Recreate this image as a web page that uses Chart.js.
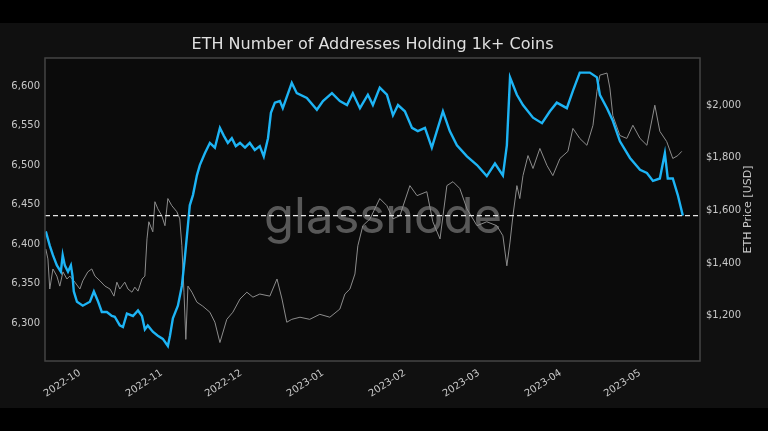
<!DOCTYPE html>
<html>
<head>
<meta charset="utf-8">
<script src="https://cdn.jsdelivr.net/npm/chart.js@4.4.0/dist/chart.umd.min.js"></script>
<style>
html, body { margin: 0; padding: 0; background: #000; }
#wrap { position: absolute; left: 0; top: 23px; width: 768px; height: 385px; background: #101010; }
</style>
</head>
<body>
<div id="wrap"><canvas id="chart"></canvas></div>
<script>
// x values are days counted from 2022-10-01
var monthLabels = ['2022-10', '2022-11', '2022-12', '2023-01', '2023-02', '2023-03', '2023-04', '2023-05'];
var monthDays = [0, 31, 61, 92, 123, 151, 182, 212];

var addrDays = [-12.9, -11.4, -10.2, -8.7, -7.2, -6.5, -5.7, -4.5, -3.4, -2.8, -2.3, -1.1, 1.1, 3.8, 5.3, 6.8, 8.3, 10.2, 12.1, 13.2,
    15.1, 16.3, 17.8, 20.1, 22.0, 23.5, 24.6, 25.7, 27.6, 29.5, 31.4, 33.3, 34.1, 35.2, 37.1, 38.6, 39.7, 40.9, 41.6, 42.8,
    44.3, 45.4, 47.3, 49.2, 51.1, 53.0, 54.5, 56.0, 57.5, 59.0, 60.6, 62.5, 64.3, 66.2, 68.1, 69.6, 71.2, 72.3, 73.8, 75.7,
    76.8, 80.2, 82.1, 85.9, 89.7, 92.0, 95.4, 98.4, 101.1, 103.3, 106.0, 109.0, 110.9, 113.5, 116.2, 118.5, 120.4, 123.0, 125.7, 127.9,
    130.6, 133.2, 135.1, 137.4, 140.0, 142.7, 146.5, 150.3, 154.0, 157.1, 160.1, 161.6, 162.8, 165.4, 167.7, 171.5, 174.9, 177.9, 180.5, 184.3,
    186.6, 189.2, 193.0, 195.7, 196.8, 199.5, 201.7, 204.4, 208.2, 212.0, 214.6, 216.9, 219.5, 221.4, 222.5, 224.4, 226.3, 228.2];
var addrValues = [6416, 6398, 6386, 6373, 6365, 6386, 6373, 6365, 6373, 6360, 6340, 6327, 6322, 6327, 6340, 6328, 6314, 6314, 6309, 6308,
    6297, 6295, 6312, 6309, 6316, 6309, 6292, 6297, 6289, 6284, 6280, 6271, 6284, 6306, 6322, 6347, 6382, 6424, 6449, 6462,
    6487, 6500, 6515, 6528, 6522, 6547, 6537, 6528, 6534, 6524, 6528, 6522, 6528, 6519, 6524, 6511, 6534, 6566, 6579, 6581,
    6572, 6604, 6591, 6585, 6570, 6581, 6591, 6581, 6576, 6591, 6572, 6589, 6576, 6598, 6589, 6563, 6576, 6568, 6547, 6543,
    6547, 6522, 6543, 6568, 6543, 6525, 6511, 6500, 6486, 6502, 6487, 6525, 6611, 6589, 6576, 6560, 6553, 6568, 6579, 6572,
    6594, 6617, 6617, 6611, 6589, 6572, 6556, 6530, 6509, 6494, 6490, 6480, 6483, 6515, 6483, 6483, 6462, 6436];

var priceDays = [-12.9, -12.1, -11.4, -10.2, -8.7, -7.6, -6.4, -4.9, -3.8, -1.9, 0, 1.1, 3.0, 4.5, 5.7, 7.6, 9.5, 11.4, 12.9, 14.0,
    15.1, 17.0, 18.2, 19.7, 20.8, 22.0, 23.5, 24.6, 25.4, 26.1, 27.6, 28.4, 29.5, 31.0, 32.2, 33.3, 34.8, 36.7, 37.8, 38.6,
    39.4, 40.1, 40.9, 42.4, 44.3, 46.5, 49.2, 51.1, 53.0, 55.6, 57.9, 60.6, 63.2, 65.5, 68.1, 71.9, 74.6, 76.5, 78.3, 80.2,
    83.3, 87.0, 90.8, 94.6, 98.4, 100.3, 102.2, 104.1, 105.2, 107.1, 109.8, 113.5, 116.2, 118.5, 121.1, 124.9, 127.6, 131.3, 133.6, 136.3,
    138.9, 141.2, 143.8, 146.5, 150.3, 154.0, 157.8, 160.1, 161.6, 162.8, 163.9, 165.4, 166.5, 167.7, 169.6, 171.5, 174.1, 176.8, 179.0, 181.7,
    184.7, 186.6, 189.2, 191.9, 194.2, 195.7, 196.8, 199.5, 200.6, 201.7, 204.4, 207.0, 209.3, 212.0, 214.6, 217.6, 219.5, 222.1, 224.4, 226.3, 227.8];
var priceValues = [1454, 1416, 1302, 1378, 1351, 1313, 1367, 1340, 1351, 1328, 1302, 1333, 1367, 1378, 1351, 1333, 1313, 1302, 1275, 1328,
    1302, 1328, 1302, 1290, 1309, 1294, 1340, 1351, 1492, 1557, 1519, 1633, 1606, 1580, 1542, 1645, 1618, 1595, 1568, 1466,
    1290, 1111, 1313, 1290, 1252, 1237, 1214, 1176, 1099, 1187, 1214, 1264, 1290, 1271, 1283, 1275, 1340, 1264, 1176, 1187,
    1195, 1187, 1206, 1195, 1226, 1283, 1302, 1359, 1466, 1542, 1568, 1645, 1618, 1568, 1580, 1694, 1656, 1671, 1557, 1492,
    1694, 1709, 1683, 1606, 1542, 1557, 1542, 1504, 1390, 1480, 1580, 1694, 1645, 1732, 1808, 1759, 1835, 1770, 1732, 1797,
    1824, 1911, 1873, 1847, 1923, 2052, 2113, 2121, 2064, 1960, 1884, 1873, 1923, 1873, 1847, 1999, 1900, 1861, 1797, 1808, 1824];

var addrTicks = [6300, 6350, 6400, 6450, 6500, 6550, 6600];
var priceTicks = [1200, 1400, 1600, 1800, 2000];
var currentLevel = 6436;
var titleText = 'ETH Number of Addresses Holding 1k+ Coins';

var toPoints = function (xs, ys) {
    return xs.map(function (x, i) { return { x: x, y: ys[i] }; });
};

var decorPlugin = {
    id: 'decor',
    beforeDraw: function (chart) {
        var a = chart.chartArea, ctx = chart.ctx;
        ctx.save();
        ctx.fillStyle = '#0b0b0b';
        ctx.fillRect(a.left, a.top, a.right - a.left, a.bottom - a.top);
        // title, centred over the plot area
        ctx.fillStyle = '#e0e0e0';
        ctx.font = '16px "DejaVu Sans"';
        ctx.textAlign = 'center';
        ctx.textBaseline = 'middle';
        ctx.fillText(titleText, (a.left + a.right) / 2, 22);
        ctx.restore();
    },
    beforeDatasetsDraw: function (chart) {
        var a = chart.chartArea, ctx = chart.ctx;
        ctx.save();
        ctx.font = '49px Inter';
        ctx.fillStyle = 'rgba(140,140,140,0.6)';
        ctx.textAlign = 'center';
        ctx.textBaseline = 'alphabetic';
        ctx.fillText('glassnode', 383, 210);
        ctx.restore();
    },
    afterDatasetsDraw: function (chart) {
        var a = chart.chartArea, ctx = chart.ctx;
        var y = chart.scales.y.getPixelForValue(currentLevel);
        ctx.save();
        ctx.strokeStyle = '#e6e6e6';
        ctx.lineWidth = 1.3;
        ctx.setLineDash([5, 3]);
        ctx.beginPath();
        ctx.moveTo(a.left, y);
        ctx.lineTo(a.right, y);
        ctx.stroke();
        ctx.setLineDash([]);
        ctx.strokeStyle = '#444';
        ctx.lineWidth = 1.5;
        ctx.strokeRect(a.left, a.top, a.right - a.left, a.bottom - a.top);
        ctx.translate(748, (a.top + a.bottom) / 2);
        ctx.rotate(-Math.PI / 2);
        ctx.fillStyle = '#c8c8c8';
        ctx.font = '11px "DejaVu Sans"';
        ctx.textAlign = 'center';
        ctx.textBaseline = 'middle';
        ctx.fillText('ETH Price [USD]', 0, 0);
        ctx.restore();
    }
};

var tickFont = { family: 'DejaVu Sans', size: 10 };

var chart = new Chart(document.getElementById('chart').getContext('2d'), {
    type: 'line',
    data: {
        datasets: [{
            label: 'Addresses 1k+',
            data: toPoints(addrDays, addrValues),
            borderColor: '#1db4f5',
            borderWidth: 2.4,
            pointRadius: 0,
            yAxisID: 'y',
            order: 0
        }, {
            label: 'ETH Price',
            data: toPoints(priceDays, priceValues),
            borderColor: '#8c8c8c',
            borderWidth: 1,
            pointRadius: 0,
            yAxisID: 'y1',
            order: 1
        }]
    },
    options: {
        responsive: true,
        maintainAspectRatio: false,
        animation: false,
        layout: { padding: { top: 35 } },
        plugins: {
            legend: { display: false },
            tooltip: { enabled: false },
            title: { display: false }
        },
        scales: {
            x: {
                type: 'linear',
                min: -13.2,
                max: 234.7,
                grid: { display: false, drawTicks: false },
                border: { display: false },
                afterBuildTicks: function (s) {
                    s.ticks = monthDays.map(function (d) { return { value: d }; });
                },
                afterFit: function (s) { s.height = 47; },
                ticks: {
                    autoSkip: false,
                    minRotation: 33,
                    maxRotation: 33,
                    padding: 6,
                    color: '#c8c8c8',
                    font: tickFont,
                    callback: function (v) {
                        var i = monthDays.indexOf(v);
                        return i >= 0 ? monthLabels[i] : '';
                    }
                }
            },
            y: {
                position: 'left',
                min: 6252,
                max: 6635.5,
                grid: { display: false, drawTicks: false },
                border: { display: false },
                afterBuildTicks: function (s) {
                    s.ticks = addrTicks.map(function (v) { return { value: v }; });
                },
                afterFit: function (s) { s.width = 45; },
                ticks: {
                    padding: 5,
                    color: '#c8c8c8',
                    font: tickFont,
                    callback: function (v) { return v.toLocaleString('en-US'); }
                }
            },
            y1: {
                position: 'right',
                min: 1029,
                max: 2178,
                grid: { display: false, drawTicks: false },
                border: { display: false },
                afterBuildTicks: function (s) {
                    s.ticks = priceTicks.map(function (v) { return { value: v }; });
                },
                afterFit: function (s) { s.width = 68; },
                ticks: {
                    padding: 6,
                    color: '#c8c8c8',
                    font: tickFont,
                    callback: function (v) { return '$' + v.toLocaleString('en-US'); }
                }
            }
        }
    },
    plugins: [decorPlugin]
});
</script>
</body>
</html>
